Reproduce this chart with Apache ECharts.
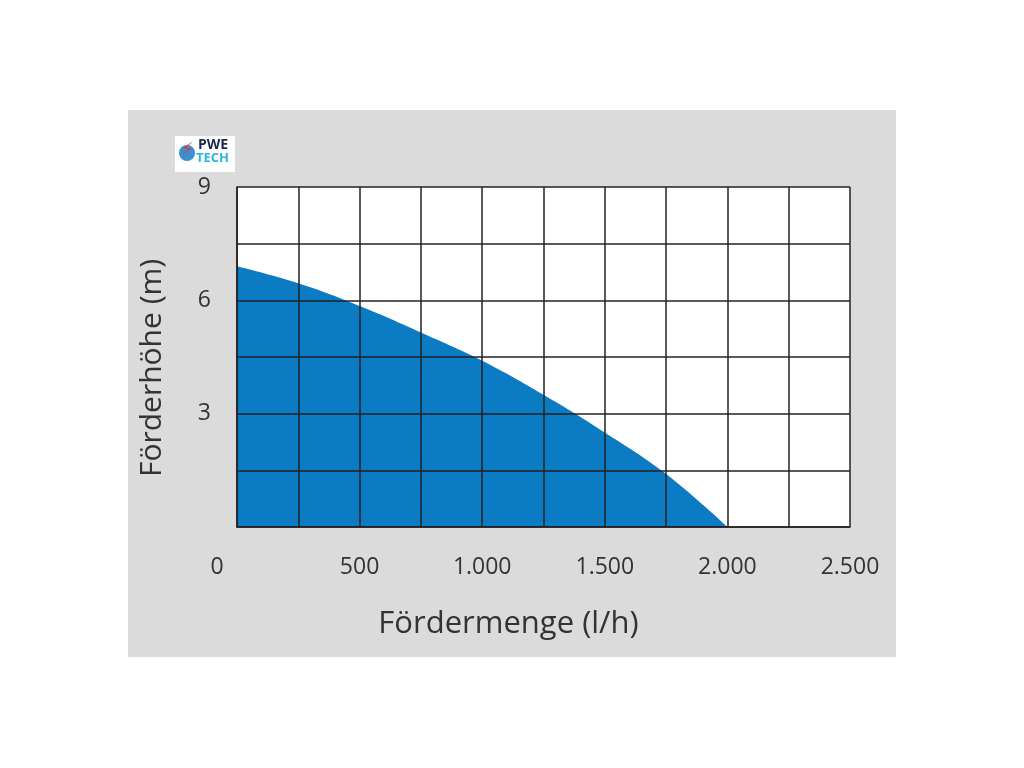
<!DOCTYPE html>
<html><head><meta charset="utf-8">
<script src="https://cdn.jsdelivr.net/npm/echarts@6/dist/echarts.min.js"></script>
<style>html,body{margin:0;padding:0;background:#fff}#c{width:1024px;height:768px}</style>
</head><body><div id="c"></div>
<script>
const flowLh = [0, 250, 500, 750, 1000, 1250, 1500, 1750, 2000];
const headM = [6.9, 6.45, 5.85, 5.15, 4.4, 3.5, 2.5, 1.4, 0];
const xTickLabels = ['0', '500', '1.000', '1.500', '2.000', '2.500'];
const yTickLabels = ['3', '6', '9'];

const chart = echarts.init(document.getElementById('c'));
const font = '"Open Sans", sans-serif';
chart.setOption({
  animation: false,
  backgroundColor: '#ffffff',
  graphic: [
    { type: 'rect', z: -10, shape: { x: 128, y: 110, width: 768, height: 547 }, style: { fill: '#dbdbdb' } },
    { type: 'rect', z: 10, shape: { x: 175, y: 136, width: 60, height: 36 }, style: { fill: '#ffffff' } },
    { type: 'circle', z: 11, shape: { cx: 187, cy: 153, r: 8 }, style: { fill: '#3b8fd0' } },
    { type: 'text', z: 12, left: 181, top: 141, style: { text: '⚡', font: '18px "DejaVu Sans", sans-serif', fill: '#e23b3b' } },
    { type: 'text', z: 11, left: 198, top: 138, style: { text: 'PWE', font: 'bold 14px "Open Sans", sans-serif', fill: '#1b2a4a' } },
    { type: 'text', z: 11, left: 196, top: 152, style: { text: 'TECH', font: 'bold 13px "Open Sans", sans-serif', fill: '#2bb5e6' } }
  ],
  grid: { left: 237, right: 174, top: 187, bottom: 241, containLabel: false, show: true, backgroundColor: '#ffffff', borderWidth: 0 },
  xAxis: {
    type: 'value', min: 0, max: 2500, interval: 250, z: 5,
    name: 'Fördermenge (l/h)', nameLocation: 'middle', nameGap: 82,
    nameTextStyle: { fontFamily: font, fontSize: 31, color: '#333', padding: [0, 70, 0, 0] },
    axisLine: { show: true, lineStyle: { color: '#222', width: 1.5 } },
    axisTick: { show: false },
    splitLine: { show: true, lineStyle: { color: '#222', width: 1.5 } },
    axisLabel: {
      margin: 29, fontFamily: font, fontSize: 23, color: '#333',
      formatter: function (v) {
        if (v % 500 !== 0) return '';
        const s = xTickLabels[v / 500];
        return v === 0 ? '{z|' + s + '}' : s;
      },
      rich: { z: { fontFamily: font, fontSize: 23, color: '#333', padding: [0, 40, 0, 0] } }
    }
  },
  yAxis: {
    type: 'value', min: 0, max: 9, interval: 1.5, z: 5,
    name: 'Förderhöhe (m)', nameLocation: 'middle', nameGap: 70,
    nameTextStyle: { fontFamily: font, fontSize: 30, color: '#333', padding: [0, 22, 0, 0] },
    axisLine: { show: true, lineStyle: { color: '#222', width: 1.5 } },
    axisTick: { show: false },
    splitLine: { show: true, lineStyle: { color: '#222', width: 1.5 } },
    axisLabel: {
      margin: 26, fontFamily: font, fontSize: 23, color: '#333',
      formatter: function (v) {
        if (v > 0 && v % 3 === 0) return yTickLabels[v / 3 - 1];
        return '';
      }
    }
  },
  series: [{
    type: 'line', smooth: 0.4, symbol: 'none',
    data: flowLh.map((x, i) => [x, headM[i]]),
    lineStyle: { width: 0 },
    areaStyle: { color: '#0b7cc3', opacity: 1 },
    z: 2
  }]
});
</script></body></html>
